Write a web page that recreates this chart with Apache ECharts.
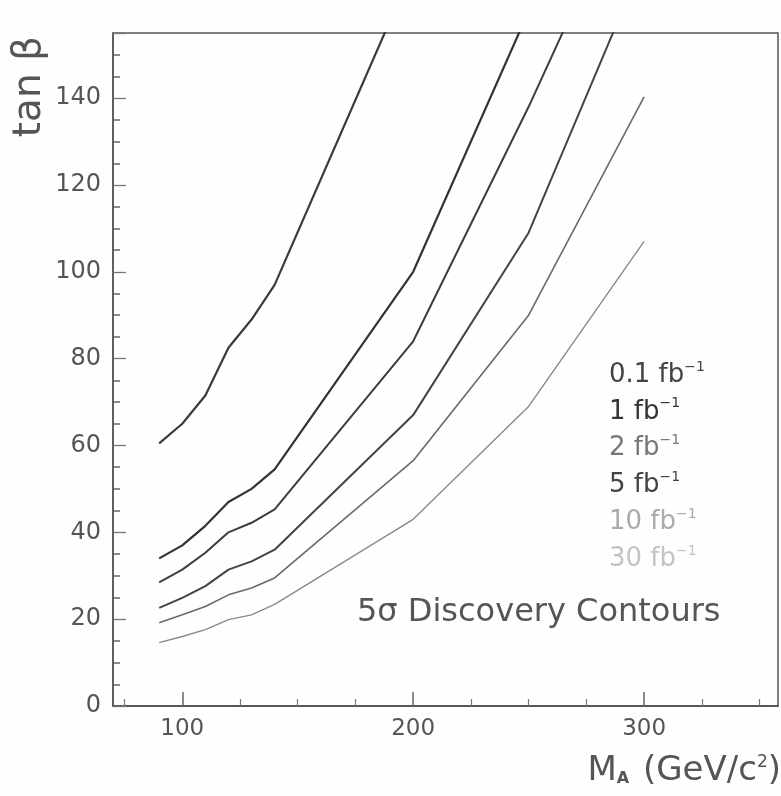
<!DOCTYPE html>
<html>
<head>
<meta charset="utf-8">
<style>html,body{margin:0;padding:0;width:781px;height:796px;background:#fdfefe;overflow:hidden;}#chart{width:781px;height:796px;}</style>
<script src="https://cdn.jsdelivr.net/npm/echarts@6/dist/echarts.min.js"></script>
</head>
<body>
<div id="chart"></div>
<script>
// M_A grid points (GeV/c^2)
var mA = [90, 100, 110, 120, 130, 140, 200, 250, 300];
// tan(beta) 5 sigma discovery contours per integrated luminosity
var lumi01 = [60.5, 65, 71.5, 82.5, 89, 97, 170, null, null];
var lumi1 = [34, 37, 41.5, 47, 50, 54.5, 100, 160, null];
var lumi2 = [28.5, 31.4, 35.3, 40, 42.2, 45.3, 84, 138, 196];
var lumi5 = [22.6, 24.9, 27.6, 31.4, 33.3, 36, 67, 109, 172];
var lumi10 = [19.2, 21, 22.9, 25.6, 27.2, 29.5, 56.5, 90, 140.3];
var lumi30 = [14.6, 16, 17.6, 19.9, 21, 23.4, 43, 69, 107];
var seriesNames = ["0.1", "1", "2", "5", "10", "30"];
var xMajor = [100, 200, 300];
var xMinor = [75, 125, 150, 175, 225, 250, 275, 325, 350];

var FONT = "DejaVu Sans";
var lineColors = ["#3a3a3a", "#333", "#3d3d3d", "#444", "#6a6a6a", "#8a8a8a"];
var lineWidths = [2.2, 2.2, 2, 2, 1.6, 1.4];
var textColors = ["#444", "#333", "#777", "#444", "#aaa", "#c4c4c4"];

function pairs(ys) {
  return mA.map(function (x, i) { return [x, ys[i]]; });
}

var allData = [lumi01, lumi1, lumi2, lumi5, lumi10, lumi30];

var chart = echarts.init(document.getElementById("chart"), null, { renderer: "canvas" });

var xBase = {
  type: "value", min: 70, max: 358,
  splitLine: { show: false },
  axisLine: { show: true, onZero: false, lineStyle: { color: "#555", width: 1.5 } }
};

var option = {
  backgroundColor: "#fdfefe",
  animation: false,
  grid: {
    left: 113, top: 33, right: 3, bottom: 90,
    show: true, borderColor: "#555", borderWidth: 1.5, backgroundColor: "transparent"
  },
  xAxis: [
    Object.assign({}, xBase, {
      axisTick: { show: true, inside: true, length: 14, customValues: xMajor, lineStyle: { color: "#666", width: 1.5 } },
      axisLabel: { customValues: xMajor, color: "#555", fontSize: 23, fontFamily: FONT, margin: 12 }
    }),
    Object.assign({}, xBase, {
      position: "bottom",
      axisTick: { show: true, inside: true, length: 7, customValues: xMinor, lineStyle: { color: "#777", width: 1.2 } },
      axisLabel: { show: false }
    })
  ],
  yAxis: {
    type: "value", min: 0, max: 155, interval: 20,
    splitLine: { show: false },
    axisLine: { show: true, lineStyle: { color: "#555", width: 1.5 } },
    axisTick: { show: true, inside: true, length: 13, lineStyle: { color: "#777", width: 1.3 } },
    minorTick: { show: true, splitNumber: 4, length: 7, lineStyle: { color: "#666", width: 1.5 } },
    axisLabel: {
      color: "#555", fontSize: 24, fontFamily: FONT, margin: 12,
      formatter: function (v) { return v <= 140 ? String(v) : ""; }
    }
  },
  series: allData.map(function (d, i) {
    return {
      name: seriesNames[i] + " fb-1",
      type: "line",
      xAxisIndex: 0,
      data: pairs(d),
      symbol: "none",
      clip: true,
      lineStyle: { color: lineColors[i], width: lineWidths[i] }
    };
  }),
  graphic: [
    {
      type: "text", left: 10, top: 36, rotation: Math.PI / 2,
      style: { text: "tan β", font: "39px " + FONT, fill: "#555" }
    },
    {
      type: "text", right: 0, top: 754,
      style: {
        text: "{m|M}{s|A}{m| (GeV/c}{p|2}{m|)}",
        rich: {
          m: { fontSize: 34, fontFamily: FONT, fill: "#555" },
          s: { fontSize: 16, fontFamily: FONT, fill: "#555", fontWeight: "bold", padding: [16, 3, 0, 0] },
          p: { fontSize: 17, fontFamily: FONT, fill: "#555", padding: [0, 0, 16, 0] }
        }
      }
    },
    {
      type: "text", left: 357, top: 597,
      style: { text: "5σ Discovery Contours", font: "32px " + FONT, fill: "#555" }
    }
  ].concat(seriesNames.map(function (n, i) {
    return {
      type: "text", left: 609, top: 360 + i * 36.8,
      style: {
        text: "{a|" + n + " fb}{b|−1}",
        rich: {
          a: { fontSize: 26, fontFamily: FONT, fill: textColors[i] },
          b: { fontSize: 14, fontFamily: FONT, fill: textColors[i], padding: [0, 0, 16, 0] }
        }
      }
    };
  }))
};

chart.setOption(option);
</script>
</body>
</html>
